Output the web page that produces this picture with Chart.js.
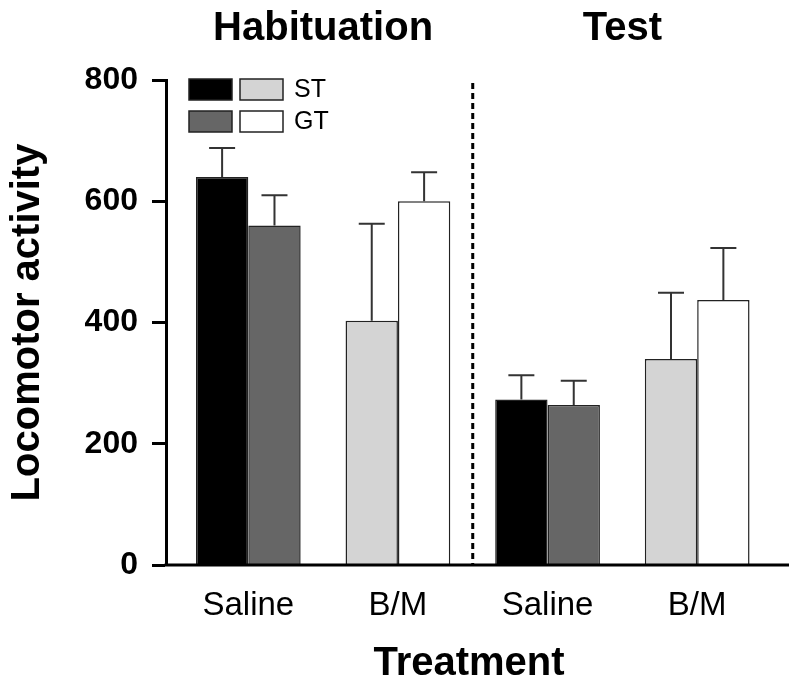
<!DOCTYPE html>
<html>
<head>
<meta charset="utf-8">
<script src="https://cdn.jsdelivr.net/npm/chart.js@4/dist/chart.umd.min.js"></script>
<style>
  html, body { margin: 0; padding: 0; background: #fff; }
  #wrap { width: 800px; height: 688px; position: relative; }
</style>
</head>
<body>
<div id="wrap"><canvas id="c" width="800" height="688"></canvas></div>
<script>
// ---- data ----
const categories = ['Saline', 'B/M', 'Saline', 'B/M'];
const phases = ['Habituation', 'Test'];
const seriesNames = ['ST', 'GT'];
const stMeans = [640, 403, 273, 340];
const stSem   = [48, 160, 40, 109];
const gtMeans = [560, 600, 264, 437];
const gtSem   = [50, 48, 40, 86];
const yTicks  = [0, 200, 400, 600, 800];

const stColors = ['#000000', '#d4d4d4', '#000000', '#d4d4d4'];
const gtColors = ['#666666', '#ffffff', '#666666', '#ffffff'];

const FONT = "'Liberation Sans', Arial, Helvetica, sans-serif";

const toPoints = arr => arr.map((v, i) => ({ x: i, y: v }));

const errorBars = {
  id: 'errorBars',
  afterDatasetsDraw(chart) {
    const ctx = chart.ctx;
    const y = chart.scales.y;
    ctx.save();
    ctx.strokeStyle = '#333';
    ctx.lineWidth = 2;
    chart.data.datasets.forEach((ds, di) => {
      const meta = chart.getDatasetMeta(di);
      meta.data.forEach((bar, i) => {
        const v = ds.data[i].y;
        const top = y.getPixelForValue(v + ds.sem[i]);
        const base = y.getPixelForValue(v);
        ctx.beginPath();
        ctx.moveTo(bar.x, base);
        ctx.lineTo(bar.x, top);
        ctx.moveTo(bar.x - 13, top);
        ctx.lineTo(bar.x + 13, top);
        ctx.stroke();
      });
    });
    ctx.restore();
  }
};

const decorations = {
  id: 'decorations',
  afterDraw(chart) {
    const ctx = chart.ctx;
    const ca = chart.chartArea;
    const x = chart.scales.x;
    ctx.save();
    // baseline
    ctx.strokeStyle = '#000';
    ctx.lineWidth = 3;
    ctx.beginPath();
    ctx.moveTo(ca.left - 1.5, ca.bottom);
    ctx.lineTo(ca.right + 17, ca.bottom);
    ctx.stroke();
    // dashed separator between phases
    const sepX = (x.getPixelForValue(1) + x.getPixelForValue(2)) / 2;
    ctx.setLineDash([6, 4]);
    ctx.beginPath();
    ctx.moveTo(sepX, ca.top + 3);
    ctx.lineTo(sepX, ca.bottom);
    ctx.stroke();
    ctx.setLineDash([]);
    // phase titles
    ctx.fillStyle = '#000';
    ctx.font = 'bold 40px ' + FONT;
    ctx.textAlign = 'center';
    ctx.textBaseline = 'alphabetic';
    phases.forEach((p, k) => {
      const cx = (x.getPixelForValue(2 * k) + x.getPixelForValue(2 * k + 1)) / 2;
      ctx.fillText(p, cx, 40);
    });
    // legend
    const lx = ca.left + 23, ly = ca.top - 1;
    const rows = [[stColors[0], stColors[1]], [gtColors[0], gtColors[1]]];
    ctx.lineWidth = 1.5;
    ctx.strokeStyle = '#222';
    rows.forEach((cols, r) => {
      const yy = ly + r * 32;
      cols.forEach((col, c) => {
        const xx = lx + c * 51;
        ctx.fillStyle = col;
        ctx.fillRect(xx, yy, 43, 21);
        ctx.strokeRect(xx, yy, 43, 21);
      });
      ctx.fillStyle = '#000';
      ctx.font = '25px ' + FONT;
      ctx.textAlign = 'left';
      ctx.textBaseline = 'middle';
      ctx.fillText(seriesNames[r], lx + 105, yy + 11);
    });
    ctx.restore();
  }
};

new Chart(document.getElementById('c'), {
  type: 'bar',
  data: {
    datasets: [
      { label: seriesNames[0], data: toPoints(stMeans), sem: stSem, backgroundColor: stColors,
        borderColor: '#222', borderWidth: 1.5 },
      { label: seriesNames[1], data: toPoints(gtMeans), sem: gtSem, backgroundColor: gtColors,
        borderColor: '#222', borderWidth: 1.5 }
    ]
  },
  options: {
    responsive: false,
    animation: false,
    devicePixelRatio: 1,
    layout: { padding: { top: 80, right: 28, left: 0, bottom: 0 } },
    datasets: { bar: { categoryPercentage: 0.70, barPercentage: 1.0 } },
    plugins: { legend: { display: false }, tooltip: { enabled: false } },
    scales: {
      x: {
        type: 'linear',
        offset: false,
        min: -0.55, max: 3.5,
        afterBuildTicks(s) { s.ticks = categories.map((c, i) => ({ value: i })); },
        grid: { display: false, offset: false },
        border: { display: false },
        ticks: { color: '#000', font: { family: FONT, size: 33 }, padding: 13,
                 callback: (v) => categories[v] },
        title: { display: true, text: 'Treatment', color: '#000',
                 font: { family: FONT, size: 40, weight: 'bold', lineHeight: 1.2 },
                 padding: { top: 0, bottom: 0 } },
        afterFit(s) { s.height = 123; }
      },
      y: {
        min: 0, max: 800,
        afterBuildTicks(s) { s.ticks = yTicks.map(v => ({ value: v })); },
        grid: { display: true, drawOnChartArea: false, drawTicks: true,
                tickLength: 14, tickWidth: 3, tickColor: '#000' },
        border: { display: true, width: 3, color: '#000' },
        ticks: { color: '#000', font: { family: FONT, size: 32, weight: 'bold' }, padding: 14 },
        title: { display: true, text: 'Locomotor activity', color: '#000',
                 font: { family: FONT, size: 40, weight: 'bold', lineHeight: 1.2 },
                 padding: { top: 4, bottom: 0 } },
        afterFit(s) { s.width = 166; }
      }
    }
  },
  plugins: [errorBars, decorations]
});
</script>
</body>
</html>
